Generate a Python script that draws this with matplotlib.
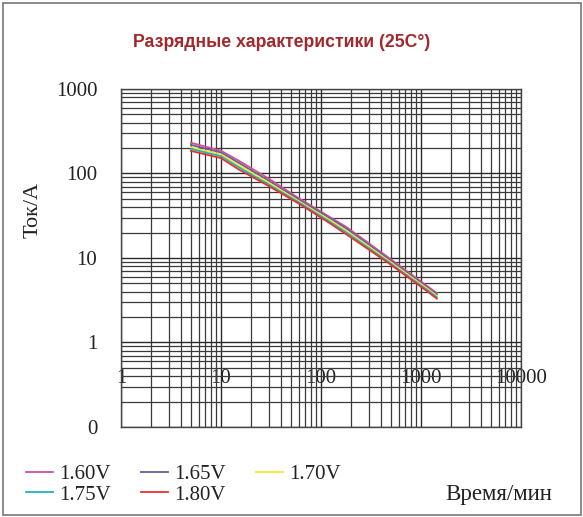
import matplotlib
matplotlib.use("Agg")
import matplotlib.pyplot as plt
from matplotlib.patches import Rectangle
from matplotlib.lines import Line2D

# Zeitpunkte (min) und Entladestrom (A) je Endspannung
zeit = [5, 10, 15, 30, 60, 120, 180, 300, 480, 600, 1200, 1440]
strom_160 = [231, 186, 142, 87, 51, 31, 23.2, 15.0, 10.0, 8.2, 4.5, 3.85]
strom_165 = [218, 177, 134, 82, 49, 30, 22.2, 14.3, 9.6, 7.9, 4.35, 3.7]
strom_170 = [204, 168, 126, 78, 47, 28.5, 21.0, 13.7, 9.2, 7.6, 4.2, 3.55]
strom_175 = [195, 160, 119, 74, 45.5, 27.3, 20.0, 13.1, 8.9, 7.3, 4.05, 3.42]
strom_180 = [185, 152, 112, 71, 44, 26.2, 19.0, 12.6, 8.6, 7.1, 3.9, 3.3]

namen = ["1.60V", "1.65V", "1.70V", "1.75V", "1.80V"]
farben = ["#d4509a", "#6a5c9c", "#f2e82c", "#1fb3bf", "#e8312f"]

x_ticks = [1, 10, 100, 1000, 10000]
x_labels = ["1", "10", "100", "1000", "10000"]
y_ticks = [0.1, 1, 10, 100, 1000]
y_labels = ["0", "1", "10", "100", "1000"]

serif = "Liberation Serif"

fig = plt.figure(figsize=(5.83, 5.17), dpi=100)
ax = fig.add_axes([0.2075, 0.1741, 0.6861, 0.6538])

ax.set_xscale("log")
ax.set_yscale("log")
ax.set_xlim(1, 10000)
ax.set_ylim(0.1, 1000)

# Gitter
ax.grid(True, which="major", color="#2a2a2a", lw=1.0)
ax.grid(True, which="minor", color="#3a3a3a", lw=0.9)
ax.set_axisbelow(True)
for s in ax.spines.values():
    s.set_color("#444444")
    s.set_linewidth(1.0)

ax.set_xticks(x_ticks)
ax.set_xticklabels(x_labels, fontfamily=serif, fontsize=15, color="#222222")
ax.set_yticks(y_ticks)
ax.set_yticklabels(y_labels, fontfamily=serif, fontsize=15, color="#222222")
ax.tick_params(which="both", length=0)
ax.tick_params(axis="x", pad=-42)
ax.tick_params(axis="y", pad=17)

# Kurven
for werte, name, farbe in zip([strom_160, strom_165, strom_170, strom_175, strom_180], namen, farben):
    ax.plot(zeit, werte, color=farbe, lw=1.3, label=name)

# Titel und Achsentexte
fig.text(0.483, 0.918, "Разрядные характеристики (25C°)", ha="center", va="center",
         fontfamily="Liberation Sans", fontweight="bold", fontsize=12.7, color="#a3282b")
fig.text(0.057, 0.594, "Ток/А", rotation=90, ha="center", va="center",
         fontfamily=serif, fontsize=16, color="#222222")
fig.text(0.856, 0.043, "Время/мин", ha="center", va="center",
         fontfamily=serif, fontsize=16.5, color="#222222")

# Legende (zeilenweise: Reihenfolge fuer ncol=3 umsortiert)
handles = [Line2D([], [], color=f, lw=1.3) for f in farben]
reihenfolge = [0, 3, 1, 4, 2]
leg = fig.legend([handles[i] for i in reihenfolge], [namen[i] for i in reihenfolge],
                 loc="upper left", bbox_to_anchor=(0.03, 0.118), ncol=3,
                 frameon=False, handlelength=1.3, handletextpad=0.3, columnspacing=1.45,
                 labelspacing=0.05, borderaxespad=0,
                 prop={"family": serif, "size": 15})
for t in leg.get_texts():
    t.set_color("#222222")

# Rahmen
fig.patches.append(Rectangle((0.006, 0.004), 0.99, 0.99, transform=fig.transFigure,
                             fill=False, edgecolor="#777777", lw=1.2))

fig.savefig("out.png", dpi=100)
